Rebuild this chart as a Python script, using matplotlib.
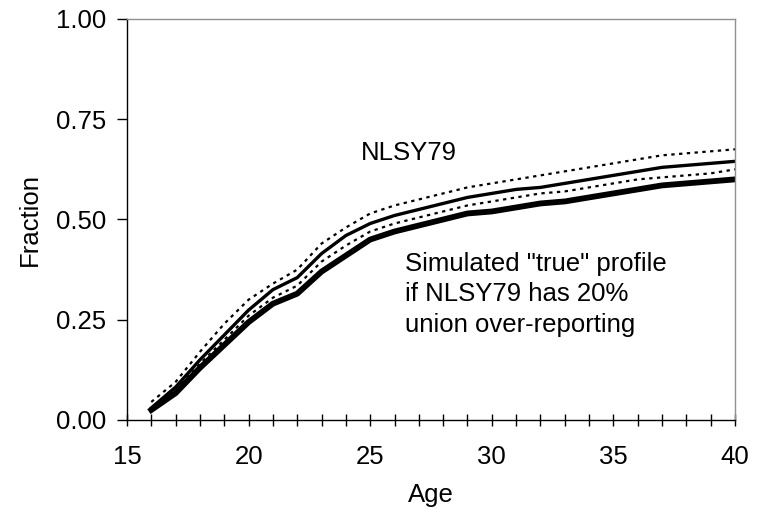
import numpy as np
import matplotlib.pyplot as plt
from matplotlib.ticker import MultipleLocator

plt.rcParams['font.family'] = ['Liberation Sans', 'DejaVu Sans']

age = np.arange(16, 41)
# NLSY79 profile
nlsy = [0.030, 0.082, 0.150, 0.212, 0.274, 0.325, 0.355, 0.415, 0.460, 0.490,
        0.510, 0.525, 0.540, 0.555, 0.565, 0.575, 0.580, 0.590, 0.600, 0.610,
        0.620, 0.630, 0.635, 0.640, 0.645]
nlsy_hi = [0.045, 0.095, 0.170, 0.240, 0.300, 0.340, 0.375, 0.440, 0.480, 0.515,
           0.535, 0.550, 0.565, 0.580, 0.590, 0.600, 0.610, 0.620, 0.630, 0.640,
           0.650, 0.660, 0.665, 0.670, 0.675]
nlsy_lo = [0.030, 0.075, 0.140, 0.200, 0.260, 0.305, 0.335, 0.395, 0.435, 0.470,
           0.490, 0.505, 0.520, 0.535, 0.545, 0.555, 0.565, 0.570, 0.580, 0.590,
           0.600, 0.605, 0.610, 0.615, 0.625]
# simulated "true" profile
sim = [0.025, 0.067, 0.130, 0.187, 0.244, 0.290, 0.315, 0.370, 0.410, 0.450,
       0.470, 0.485, 0.500, 0.515, 0.520, 0.530, 0.540, 0.545, 0.555, 0.565,
       0.575, 0.585, 0.590, 0.595, 0.600]

fs = 18.5

fig = plt.figure(figsize=(7.59, 5.13), dpi=100)
ax = fig.add_axes([0.1673, 0.1813, 0.8011, 0.7817])

ax.plot(age, nlsy_hi, color='black', lw=1.6, ls=(0, (1.5, 2.0)))
ax.plot(age, nlsy_lo, color='black', lw=1.6, ls=(0, (1.5, 2.0)))
ax.plot(age, nlsy, color='black', lw=2.4)
ax.plot(age, sim, color='black', lw=4.2)

ax.text(24.6, 0.666, 'NLSY79', fontsize=fs, va='center')
ax.text(26.45, 0.42, 'Simulated "true" profile\nif NLSY79 has 20%\nunion over-reporting',
        fontsize=fs, va='top', linespacing=1.36)

ax.set_xlim(15, 40)
ax.set_ylim(0, 1)
ax.xaxis.set_major_locator(MultipleLocator(5))
ax.xaxis.set_minor_locator(MultipleLocator(1))
ax.yaxis.set_major_locator(MultipleLocator(0.25))
ax.set_yticklabels(['%.2f' % v for v in ax.get_yticks()])
ax.tick_params(axis='x', which='both', direction='inout', length=8, width=1, labelsize=fs, pad=14)
ax.tick_params(axis='y', direction='out', length=7, width=1, labelsize=fs, pad=8)

for s in ['top', 'right']:
    ax.spines[s].set_color('#909090')
    ax.spines[s].set_linewidth(1)
for s in ['left', 'bottom']:
    ax.spines[s].set_color('black')
    ax.spines[s].set_linewidth(1)

ax.set_xlabel('Age', fontsize=fs, labelpad=10)
ax.set_ylabel('Fraction', fontsize=fs, labelpad=10)

fig.savefig('out.png', dpi=100)
